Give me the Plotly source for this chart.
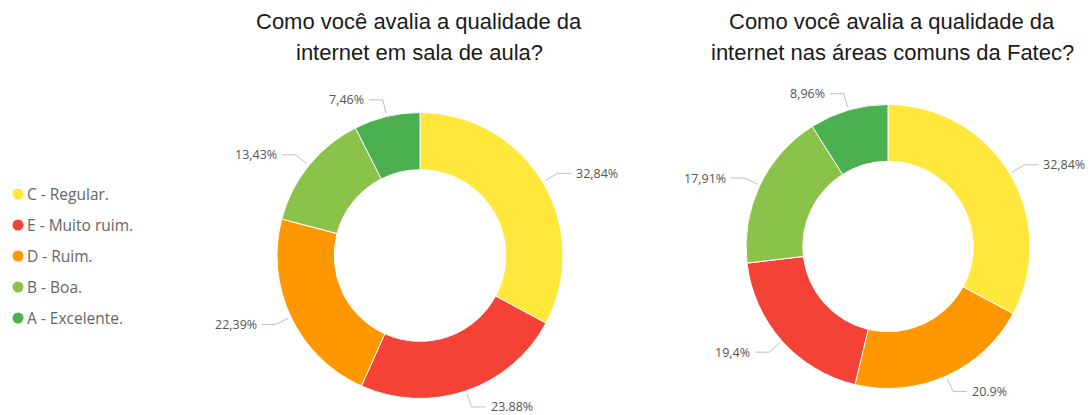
import math
import plotly.graph_objects as go

# Survey answers (percent of respondents)
categories = ["C - Regular.", "E - Muito ruim.", "D - Ruim.", "B - Boa.", "A - Excelente."]
colors = {
    "C - Regular.": "#FFE83B",
    "E - Muito ruim.": "#F44336",
    "D - Ruim.": "#FF9800",
    "B - Boa.": "#8BC34A",
    "A - Excelente.": "#4CAF50",
}

sala_labels = ["C - Regular.", "E - Muito ruim.", "D - Ruim.", "B - Boa.", "A - Excelente."]
sala_values = [32.84, 23.88, 22.39, 13.43, 7.46]
sala_decimal_sep = [",", ".", ",", ",", ","]

comuns_labels = ["C - Regular.", "D - Ruim.", "E - Muito ruim.", "B - Boa.", "A - Excelente."]
comuns_values = [32.84, 20.9, 19.4, 17.91, 8.96]
comuns_decimal_sep = [",", ".", ",", ",", ","]

titles = [
    ["Como você avalia a qualidade da", "internet em sala de aula?"],
    ["Como você avalia a qualidade da", "internet nas áreas comuns da Fatec?"],
]

W, H = 1091, 415
HOLE = 0.60
LINE_COLOR = "#BDBDBD"
LABEL_COLOR = "#555555"
LABEL_FONT = "Segoe UI, Open Sans, sans-serif"


def px(x):
    return x / W


def py(y):
    return 1 - y / H


def fmt(v, sep):
    return f"{v:g}".replace(".", sep) + "%"


fig = go.Figure()
shapes = []
annotations = []

# (center x, center y, radius) of each donut in pixels
donuts = [
    (420.0, 255.5, 143.0, sala_labels, sala_values, sala_decimal_sep, 419.0),
    (888.0, 246.5, 142.0, comuns_labels, comuns_values, comuns_decimal_sep, 892.0),
]

for (cx, cy, r, labels, values, seps, tx), title in zip(donuts, titles):
    fig.add_trace(go.Pie(
        labels=labels,
        values=values,
        sort=False,
        direction="clockwise",
        rotation=0,
        hole=HOLE,
        textinfo="none",
        textposition="none",
        hoverinfo="label+percent",
        showlegend=False,
        marker=dict(colors=[colors[l] for l in labels], line=dict(color="white", width=1)),
        domain=dict(x=[px(cx - r), px(cx + r)], y=[py(cy + r), py(cy - r)]),
    ))

    total = sum(values)
    acc = 0.0
    for v, sep in zip(values, seps):
        mid = (acc + v / 2) / total * 2 * math.pi
        acc += v
        sx, sy = math.sin(mid), -math.cos(mid)
        x0, y0 = cx + (r + 3) * sx, cy + (r + 3) * sy
        x1, y1 = cx + (r + 17) * sx, cy + (r + 17) * sy
        d = 1 if sx >= 0 else -1
        x2 = x1 + 14 * d
        shapes.append(dict(type="line", xref="paper", yref="paper",
                           x0=px(x0), y0=py(y0), x1=px(x1), y1=py(y1),
                           line=dict(color=LINE_COLOR, width=1)))
        shapes.append(dict(type="line", xref="paper", yref="paper",
                           x0=px(x1), y0=py(y1), x1=px(x2), y1=py(y1),
                           line=dict(color=LINE_COLOR, width=1)))
        annotations.append(dict(
            x=px(x2 + 3 * d), y=py(y1), xref="paper", yref="paper",
            xanchor="left" if d > 0 else "right", yanchor="middle",
            text=fmt(v, sep), showarrow=False,
            font=dict(family=LABEL_FONT, size=12.5, color=LABEL_COLOR),
        ))

    for i, line in enumerate(title):
        annotations.append(dict(
            x=px(tx), y=py(22 + 31 * i), xref="paper", yref="paper",
            xanchor="center", yanchor="middle", text=line, showarrow=False,
            font=dict(family="Liberation Sans, Arial, sans-serif", size=22, color="#1A1A1A"),
        ))

# Legend: coloured dots with category names
for i, cat in enumerate(categories):
    yc = 194 + 31 * i
    shapes.append(dict(type="circle", xref="paper", yref="paper",
                       x0=px(12.5), x1=px(23.5), y0=py(yc + 5.5), y1=py(yc - 5.5),
                       fillcolor=colors[cat], line=dict(width=0)))
    annotations.append(dict(
        x=px(25), y=py(yc), xref="paper", yref="paper",
        xanchor="left", yanchor="middle", text=cat, showarrow=False,
        font=dict(family=LABEL_FONT, size=15.5, color="#666666"),
    ))

fig.update_layout(
    width=W, height=H,
    margin=dict(l=0, r=0, t=0, b=0),
    paper_bgcolor="white",
    plot_bgcolor="white",
    shapes=shapes,
    annotations=annotations,
)

fig.write_html("out.html")
